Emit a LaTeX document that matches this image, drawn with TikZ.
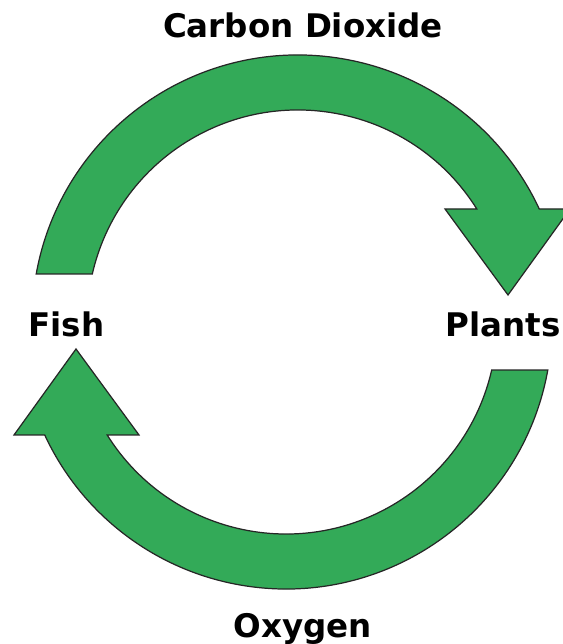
\documentclass[tikz,border=0pt]{standalone}
\usepackage{fontspec}
\setmainfont{DejaVu Sans}
\usepackage{xcolor}
\usepackage{tikz}

\definecolor{cyclegreen}{RGB}{51,170,88}
\tikzset{
  cyclearrow/.style={draw=black!85, line width=0.7pt, fill=cyclegreen, line join=miter},
  cyclelabel/.style={font=\fontsize{18.5}{22}\selectfont\bfseries, inner sep=0pt}
}

\begin{document}
\begin{tikzpicture}[x=0.02cm, y=0.02cm]
  \useasboundingbox (0,0) rectangle (563,644);

  % Upper arrow (Fish -> Plants)
  \draw[cyclearrow, shift={(298,323)}] (169.8:266) arc[start angle=169.8, end angle=24.9, radius=266]
    -- (272,112) -- (210,26) -- (147,112) -- (32.06:211)
    arc[start angle=32.06, end angle=167.1, radius=211] -- cycle;

  % Lower arrow (Plants -> Fish), same shape turned round
  \draw[cyclearrow, shift={(286,321)}, rotate=180] (169.8:266) arc[start angle=169.8, end angle=24.9, radius=266]
    -- (272,112) -- (210,26) -- (147,112) -- (32.06:211)
    arc[start angle=32.06, end angle=167.1, radius=211] -- cycle;

  % Labels
  \node[cyclelabel, anchor=base] (co2) at (303,606) {Carbon Dioxide};
  \node[cyclelabel, anchor=base] (o2) at (303,7) {Oxygen};
  \node[cyclelabel, anchor=base west] (fish) at (28,307) {Fish};
  \node[cyclelabel, anchor=base east] (plants) at (561,307) {Plants};
\end{tikzpicture}
\end{document}
